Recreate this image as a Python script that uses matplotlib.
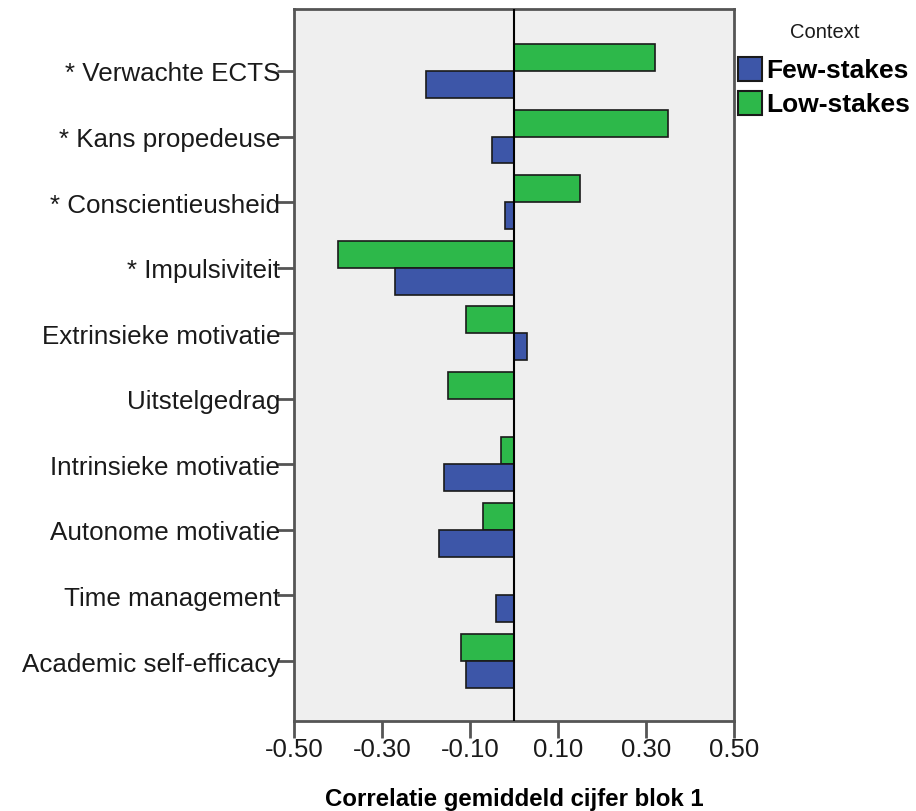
import matplotlib
matplotlib.use("Agg")
import matplotlib.pyplot as plt
import numpy as np
from matplotlib.patches import Rectangle

categories = ["* Verwachte ECTS", "* Kans propedeuse", "* Conscientieusheid",
              "* Impulsiviteit", "Extrinsieke motivatie", "Uitstelgedrag",
              "Intrinsieke motivatie", "Autonome motivatie", "Time management",
              "Academic self-efficacy"]
few_stakes = [-0.20, -0.05, -0.02, -0.27, 0.03, 0.00, -0.16, -0.17, -0.04, -0.11]
low_stakes = [0.32, 0.35, 0.15, -0.40, -0.11, -0.15, -0.03, -0.07, 0.00, -0.12]
xticks = [-0.50, -0.30, -0.10, 0.10, 0.30, 0.50]
xtick_labels = ["-0.50", "-0.30", "-0.10", "0.10", "0.30", "0.50"]
series_names = ["Few-stakes", "Low-stakes"]

BLUE = "#3D56A8"
GREEN = "#2DB84A"

plt.rcParams['font.family'] = ['Liberation Sans', 'DejaVu Sans']

fig = plt.figure(figsize=(9.16, 8.12), dpi=100)
W, H = 916, 812
ax = fig.add_axes([294 / W, 1 - 722 / H, (734 - 294) / W, (722 - 10) / H])
ax.set_facecolor("#EFEFEF")

y = np.arange(len(categories))
h = 0.41
ax.barh(y - h / 2, low_stakes, height=h, color=GREEN, edgecolor="#1a1a1a", linewidth=1.2, zorder=2)
ax.barh(y + h / 2, few_stakes, height=h, color=BLUE, edgecolor="#1a1a1a", linewidth=1.2, zorder=2)
ax.axvline(0, color="black", linewidth=1.5, zorder=3)

ax.set_xlim(-0.5, 0.5)
ax.set_ylim(9.915, -0.945)
ax.set_yticks(y)
ax.set_yticklabels(categories, fontsize=18.7, color="#1a1a1a")
ax.set_xticks(xticks)
ax.set_xticklabels(xtick_labels, fontsize=18.5, color="#1a1a1a")
ax.tick_params(axis='both', length=12, width=2, color="#555555")
ax.tick_params(axis='y', pad=-2)
ax.tick_params(axis='x', pad=-0.5)

for s in ax.spines.values():
    s.set_color("#555555")
    s.set_linewidth(2)

ax.set_xlabel("Correlatie gemiddeld cijfer blok 1", fontsize=17.3, fontweight="bold", labelpad=19)

# legend
fig.text(825 / W, 1 - 33 / H, "Context", fontsize=14.5, ha="center", va="center", color="#1a1a1a")
colors = [BLUE, GREEN]
for i, (name, c) in enumerate(zip(series_names, colors)):
    ytop = 58 + i * 34
    fig.patches.append(Rectangle((738 / W, 1 - (ytop + 24) / H), 24 / W, 24 / H,
                                 facecolor=c, edgecolor="#1a1a1a", linewidth=1.5,
                                 transform=fig.transFigure, figure=fig))
    fig.text(766 / W, 1 - (ytop + 13) / H, name, fontsize=19, fontweight="bold",
             ha="left", va="center")

fig.savefig("out.png", dpi=100)
